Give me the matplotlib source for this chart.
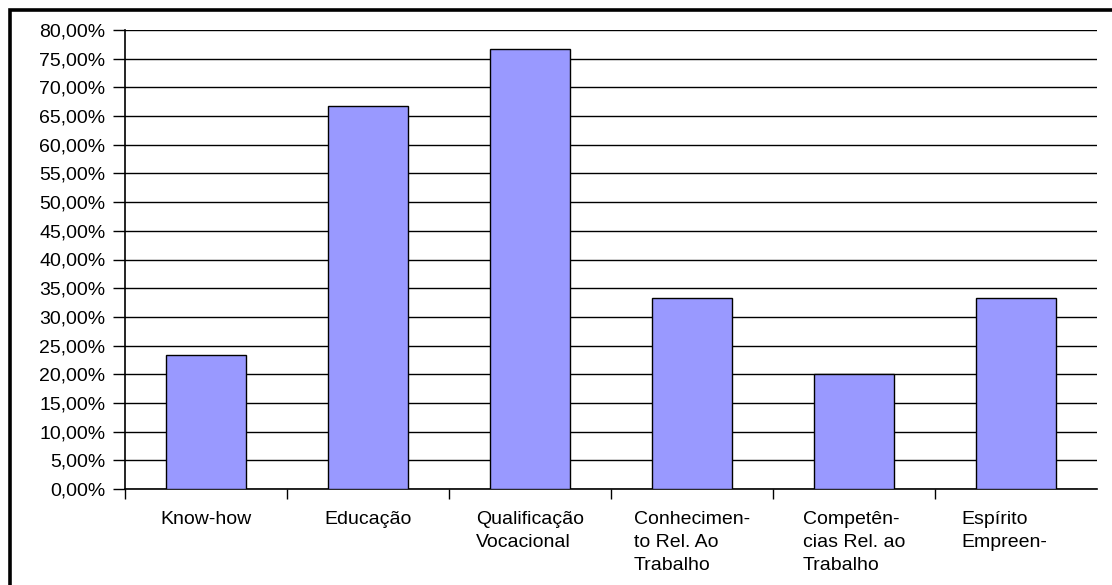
import matplotlib
matplotlib.use('Agg')
import matplotlib.pyplot as plt
import matplotlib.transforms as mtransforms
from matplotlib.patches import Rectangle
import numpy as np

plt.rcParams['font.family'] = ['Liberation Sans', 'DejaVu Sans']

categorias = ['Know-how', 'Educação', 'Qualificação\nVocacional',
              'Conhecimen-\nto Rel. Ao\nTrabalho', 'Competên-\ncias Rel. ao\nTrabalho',
              'Espírito\nEmpreen-']
valores = [23.33, 66.67, 76.67, 33.33, 20.00, 33.33]
yticks = np.arange(0, 85, 5)

fig = plt.figure(figsize=(11.12, 5.85), dpi=100)
ax = fig.add_axes([125/1112, 1 - 489/585, (1097-125)/1112, (489-30)/585])

x = np.arange(len(categorias))
ax.bar(x, valores, width=0.49, color='#9999FF', edgecolor='black', linewidth=1, zorder=3)

ax.set_xlim(-0.5, len(categorias) - 0.5)
ax.set_ylim(0, 80)
ax.set_yticks(yticks)
ax.set_yticklabels([('%.2f%%' % v).replace('.', ',') for v in yticks])
ax.yaxis.grid(True, color='black', linewidth=1)
ax.set_axisbelow(True)

# ticks between categories, labels centered under bars
ax.set_xticks(np.arange(-0.5, len(categorias) - 0.5, 1))
ax.set_xticklabels([])
ax.set_xticks(x, minor=True)
ax.set_xticklabels(categorias, minor=True, fontsize=14, linespacing=1.45, multialignment='left')
ax.tick_params(axis='x', which='minor', length=0, pad=16)
ax.tick_params(axis='x', which='major', length=7.5, width=1, direction='out')
ax.tick_params(axis='y', length=9, width=1, direction='out', labelsize=14, pad=5)

lbl = ax.get_xticklabels(minor=True)[-1]
lbl.set_transform(lbl.get_transform() + mtransforms.ScaledTranslation(-0.12, 0, fig.dpi_scale_trans))

for s in ['top', 'right']:
    ax.spines[s].set_visible(False)
ax.spines['left'].set_linewidth(1.2)
ax.spines['bottom'].set_linewidth(1.2)

# outer frame
fig.patches.append(Rectangle((9.5/1112, -0.1), 1.2, 1 - 9.5/585 + 0.1, transform=fig.transFigure,
                             fill=False, edgecolor='black', linewidth=2.6))

fig.savefig('out.png', dpi=100)
